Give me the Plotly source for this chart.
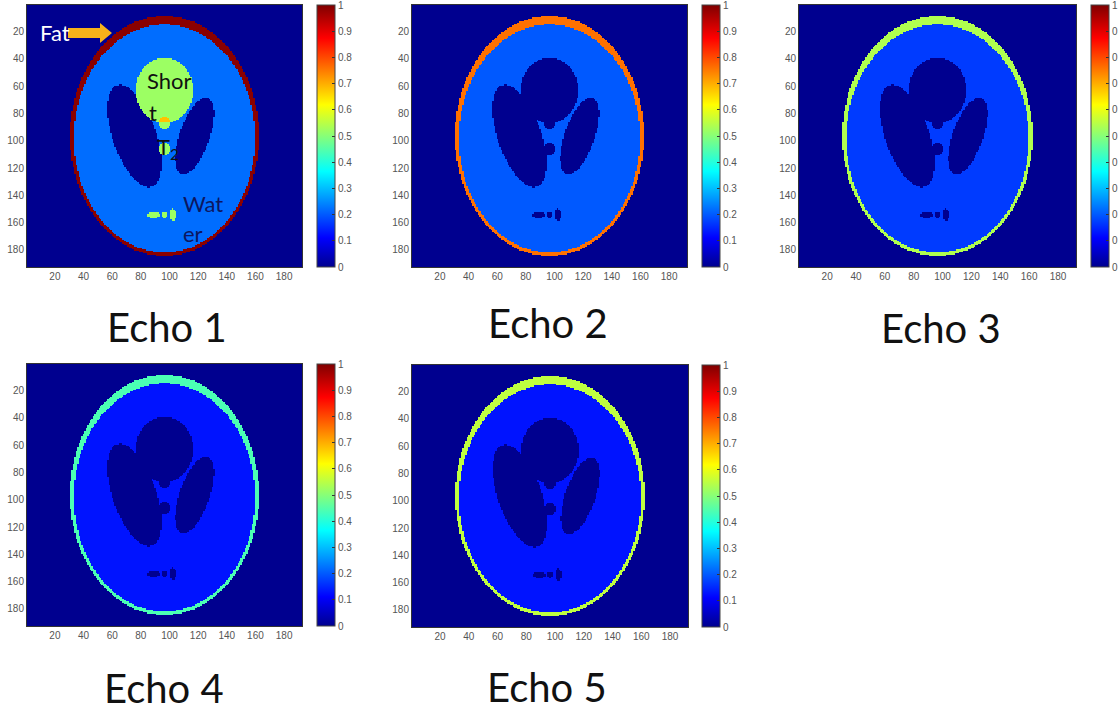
import numpy as np
import plotly.graph_objects as go

W, H = 1150, 706   # canvas slightly wider than the 1118 window so cut-off labels do not shrink the layout
N = 192

# Phantom geometry (Shepp-Logan layout): centre x/y, semi-axes a/b, angle in degrees
ell_x0 = [0.0, 0.0, 0.22, -0.22, 0.0, 0.0, 0.0, -0.08, 0.0, 0.06]
ell_y0 = [0.0, -0.0184, 0.0, 0.0, 0.35, 0.1, -0.1, -0.605, -0.606, -0.605]
ell_a = [0.69, 0.6624, 0.11, 0.16, 0.21, 0.046, 0.046, 0.046, 0.023, 0.023]
ell_b = [0.92, 0.874, 0.31, 0.41, 0.25, 0.046, 0.046, 0.023, 0.023, 0.046]
ell_phi = [0, 0, -18, 18, 0, 0, 0, 0, 0, 0]

# Signal of each tissue class per echo
echo_names = ["Echo 1", "Echo 2", "Echo 3", "Echo 4", "Echo 5"]
background_signal = [0.0, 0.0, 0.0, 0.0, 0.0]
fat_signal = [0.99, 0.76, 0.54, 0.44, 0.555]
water_signal = [0.22, 0.20, 0.17, 0.13, 0.13]
cavity_signal = [0.0, 0.0, 0.0, 0.0, 0.0]
short_t2_signal = [0.52, 0.0, 0.0, 0.0, 0.0]
overlap_signal = [0.68, 0.0, 0.0, 0.0, 0.0]

axis_ticks = [20, 40, 60, 80, 100, 120, 140, 160, 180]
cbar_ticks = [0, 0.1, 0.2, 0.3, 0.4, 0.5, 0.6, 0.7, 0.8, 0.9, 1]

# MATLAB jet colormap
jet = [[0.0, "rgb(0,0,143)"], [0.111, "rgb(0,0,255)"], [0.365, "rgb(0,255,255)"],
       [0.619, "rgb(255,255,0)"], [0.873, "rgb(255,0,0)"], [1.0, "rgb(128,0,0)"]]

# ---- rasterise the phantom into tissue labels ----
ax = (np.arange(N) - (N - 1) / 2) / ((N - 1) / 2)
X = ax[None, :].repeat(N, 0)
Y = -ax[:, None].repeat(N, 1)


def mask(k):
    p = np.deg2rad(ell_phi[k])
    xr = X - ell_x0[k]
    yr = Y - ell_y0[k]
    return ((xr * np.cos(p) + yr * np.sin(p)) ** 2 / ell_a[k] ** 2
            + (yr * np.cos(p) - xr * np.sin(p)) ** 2 / ell_b[k] ** 2) <= 1


m = [mask(k) for k in range(len(ell_x0))]
lab = np.zeros((N, N), dtype=int)
lab[m[0]] = 1
lab[m[1]] = 2
lab[m[2] | m[3]] = 3
lab[m[4] | m[5] | m[6] | m[7] | m[8] | m[9]] = 4
lab[m[4] & m[5]] = 5

# ---- layout in pixels ----
panels = [  # x0, x1, y0, y1 (plot area), colorbar left, title centre x, title centre y
    (27, 302, 5, 267, 317, 167, 327),
    (412, 687, 5, 267, 702, 548, 323),
    (799, 1076, 5, 267, 1091, 941, 328),
    (27, 302, 364, 626, 317, 164, 688),
    (412, 688, 365, 627, 702, 547, 687),
]


def px(x):
    return x / W


def py(y):
    return 1 - y / H


fig = go.Figure()
tick_font = dict(family="Liberation Sans, Arial", size=10, color="#555555")
cols = np.arange(1, N + 1)

for i, (x0, x1, y0, y1, cbx, tx, ty) in enumerate(panels):
    lut = np.array([background_signal[i], fat_signal[i], water_signal[i],
                    cavity_signal[i], short_t2_signal[i], overlap_signal[i]])
    z = lut[lab]
    sfx = "" if i == 0 else str(i + 1)
    fig.add_trace(go.Heatmap(
        z=z, x=cols, y=cols, xaxis="x" + sfx, yaxis="y" + sfx,
        zmin=0, zmax=1, colorscale=jet, zsmooth=False, hoverinfo="skip",
        colorbar=dict(
            x=px(cbx), xanchor="left", xpad=0, ypad=0,
            y=py(y0), yanchor="top", len=(y1 - y0) / H, lenmode="fraction",
            thickness=18, thicknessmode="pixels",
            tickvals=cbar_ticks, ticks="inside", ticklen=3, tickcolor="#333333",
            ticklabeloverflow="allow",
            tickfont=tick_font, outlinecolor="#444444", outlinewidth=1,
        ),
    ))
    fig.layout["xaxis" + sfx] = dict(
        domain=[px(x0), px(x1)], range=[0.5, N + 0.5], anchor="y" + sfx,
        tickvals=axis_ticks, ticks="", tickfont=tick_font, showgrid=False, automargin=False,
        zeroline=False, showline=True, mirror=True, linecolor="#333333", linewidth=1,
    )
    fig.layout["yaxis" + sfx] = dict(
        domain=[py(y1), py(y0)], range=[N + 0.5, 0.5], anchor="x" + sfx,
        tickvals=axis_ticks, ticks="", tickfont=tick_font, showgrid=False, automargin=False,
        zeroline=False, showline=True, mirror=True, linecolor="#333333", linewidth=1,
    )
    fig.add_annotation(text=echo_names[i], x=px(tx), y=py(ty), xref="paper", yref="paper",
                       xanchor="center", yanchor="middle", showarrow=False,
                       font=dict(family="Lato", size=40, color="#111111"))

# ---- labels in panel 1 ----
lab_font = "Lato"
notes = [
    ("Fat", 38, 33, "#ffffff"),
    ("Shor", 145, 81, "#111111"),
    ("t", 147, 112, "#111111"),
    ("T<sub>2</sub>", 155, 148, "#111111"),
    ("Wat", 181, 203, "#0d1660"),
    ("er", 181, 233, "#0d1660"),
]
for txt, x, y, c in notes:
    fig.add_annotation(text=txt, x=px(x), y=py(y), xref="paper", yref="paper",
                       xanchor="left", yanchor="middle", showarrow=False,
                       font=dict(family=lab_font, size=22, color=c))

arrow_pts = [(68, 28), (100, 28), (100, 23), (112, 33), (100, 43), (100, 38), (68, 38)]
path = "M " + " L ".join(f"{px(a):.5f},{py(b):.5f}" for a, b in arrow_pts) + " Z"
fig.add_shape(type="path", path=path, xref="paper", yref="paper",
              fillcolor="#F7B21A", line=dict(width=0), layer="above")

fig.update_layout(width=W, height=H, autosize=False, margin=dict(l=0, r=0, t=0, b=0, autoexpand=False),
                  paper_bgcolor="white", plot_bgcolor="white", showlegend=False)
fig.write_html(
    "out.html",
    config={"displayModeBar": False},
    post_script=("document.body.style.margin='0';document.body.style.overflow='hidden';"
                 "document.documentElement.style.overflow='hidden';"),
)
